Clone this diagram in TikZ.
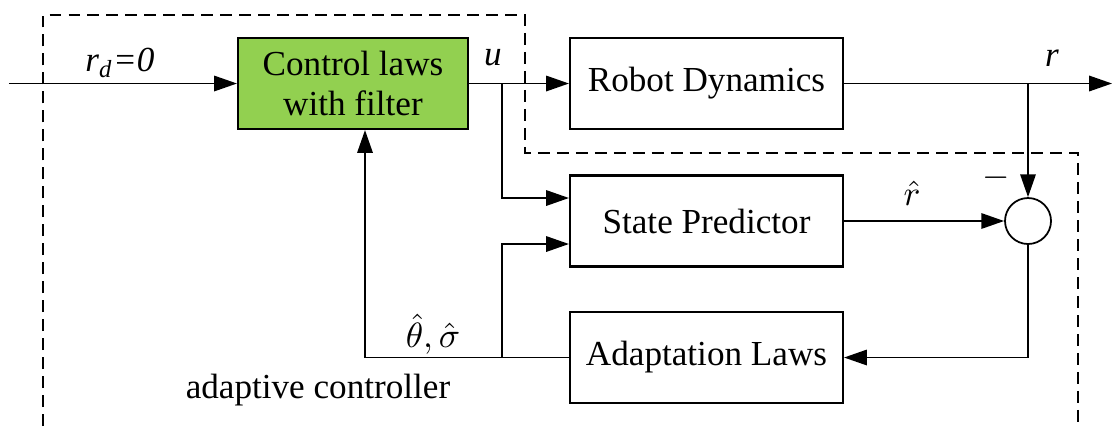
\documentclass[tikz,border=0pt]{standalone}
\usepackage{fontspec}
\setmainfont{Liberation Serif}
\usepackage{xcolor}
\usetikzlibrary{arrows.meta,positioning,calc}
\definecolor{filtergreen}{HTML}{92D050}

\begin{document}
\begin{tikzpicture}[
  font=\fontsize{10}{11.5}\selectfont,
  block/.style={draw,line width=0.6pt,align=center,minimum width=2.73cm,minimum height=0.91cm},
  arrow/.style={-{Triangle[length=6.5pt,width=4.4pt]},line width=0.5pt},
  sig/.style={font=\fontsize{10}{11.5}\selectfont\itshape,inner sep=1pt},
  ctrlarea/.style={dash pattern=on 3.4pt off 2pt,line width=0.5pt}
]
\useasboundingbox (0,0) rectangle (11.12,4.26);
\node[block,fill=filtergreen,minimum width=2.3cm] (ctrl) at (3.53,3.425) {Control laws\\with filter};
\node[block] (dyn) at (7.065,3.425) {Robot Dynamics};
\node[block] (pred) at (7.065,2.05) {State Predictor};
\node[block] (adapt) at (7.065,0.685) {Adaptation Laws};
\node[draw,circle,line width=0.5pt,minimum size=0.46cm,inner sep=0pt] (sum) at (10.28,2.05) {};
\coordinate (in) at (0.09,3.425);
\coordinate (out) at (11.12,3.425);
\coordinate (ubr) at (5.02,3.425);
\coordinate (fb) at (3.65,0.685);
% forward path
\draw[arrow] (in) -- (ctrl);
\draw[arrow] (ctrl) -- (dyn);
\draw[arrow] (dyn) -- (out);
\draw[arrow] (ubr) |- ($(pred.west)+(0,0.23)$);
% error and adaptation loop
\draw[arrow] (sum |- dyn) -- (sum);
\draw[arrow] (pred) -- (sum);
\draw[arrow] (sum) |- (adapt);
\draw[arrow] (adapt) -- (fb) -- (fb |- ctrl.south);
\draw[arrow] (ubr |- adapt) |- ($(pred.west)+(0,-0.23)$);
% labels
\node[sig] at (1.2,3.63) {r\textsubscript{d}=0};
\node[sig] at (4.93,3.68) {u};
\node[sig] at (10.52,3.68) {r};
\node[inner sep=1pt] at (9.12,2.33) {$\hat{r}$};
\node[inner sep=1pt] at (9.96,2.48) {$-$};
\node[inner sep=1pt] at (4.33,0.92) {$\hat{\theta},\hat{\sigma}$};
\node[inner sep=1pt] (ctrlname) at (3.18,0.36) {adaptive controller};
% controller boundary
\draw[ctrlarea] (0.43,0) -- (0.43,4.11) -- (5.25,4.11) -- (5.25,2.73) -- (10.78,2.73) -- (10.78,0);
\end{tikzpicture}
\end{document}
